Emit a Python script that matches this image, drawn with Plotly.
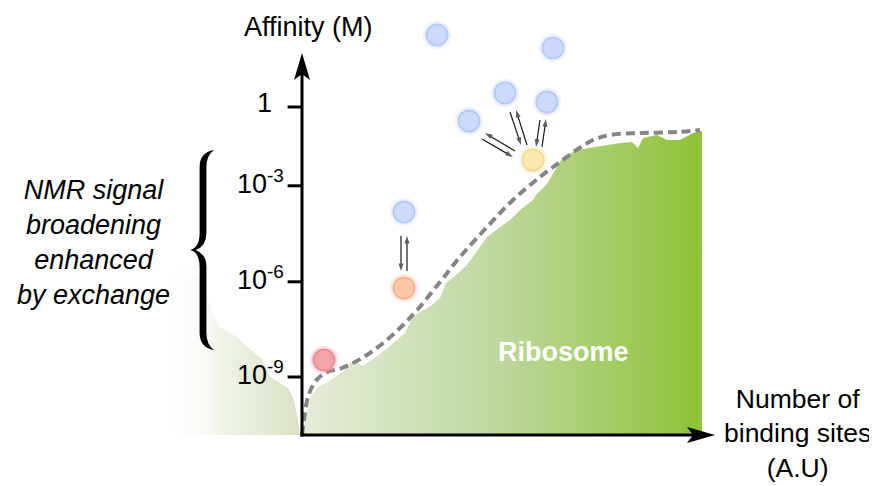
import plotly.graph_objects as go

# ---------------- data (x: number of binding sites, A.U.; y: affinity level, A.U.) ----------------
ribosome_x = [0, 0.25, 1, 2, 4, 6.5, 9, 10.75, 12, 13.5, 15, 17.5, 20.75, 23.25, 25.75, 27.5, 29.5,
              32.5, 34.5, 36, 38.25, 41.25, 44, 46.25, 49.5, 52, 54.5, 57.75, 58.5, 61.25, 63.25,
              65.25, 68.75, 74.5, 79.5, 82.5, 84, 85.25, 88.75, 91.25, 94.5, 97.75, 100, 100]
ribosome_y = [0, 0.5, 5, 9.5, 12, 13.25, 15, 16.25, 18.25, 18.25, 17.25, 18.75, 21.25, 23.5, 25.5,
              29.25, 30.75, 32.5, 34.25, 38, 39.75, 42.5, 46.25, 49.5, 52, 53.75, 56.25, 58.75, 60,
              62.75, 66.25, 69.5, 71.25, 72.25, 73, 73.25, 71.75, 74.25, 75, 73.75, 73.75, 75.5, 76, 0]

trend_x = [0, 0.5, 1.5, 3.25, 5.75, 10, 15, 20, 25, 29, 34.5, 39.5, 46.25, 52.75, 59.5, 64.5,
           68.25, 72.75, 77, 85.25, 93.75, 99.5]
trend_y = [0, 3.75, 9.5, 13.25, 15.5, 16.75, 19.25, 22.75, 27.25, 31.5, 38.25, 44.5, 52, 58.75, 64.5,
           68.25, 71, 73.75, 75, 75.5, 75.75, 76.25]

exchange_x = [-34.25, -30.5, -26.75, -24.25, -22.5, -20.5, -18, -16.25, -14.25, -11.75, -9.75, -8,
              -5.5, -3.5, -2.25, -1.5, -0.75, -0.5, -34.25]
exchange_y = [41.75, 41.75, 40, 36.25, 30.75, 27, 25.5, 24.5, 22.5, 20.5, 18.75, 14.5, 13, 11.75,
              9.5, 6.25, 2, 0, 0]

ligand_x = [33.75, 62.75, 50.75, 61.25, 41.75, 25.5, 57.75, 25.5, 5.5]
ligand_y = [100, 96.75, 85.5, 83.25, 78.5, 55.75, 68.75, 36.75, 18.75]
ligand_state = ["free", "free", "free", "free", "free", "free", "weak", "medium", "strong"]

# exchange arrows: tail -> head
arrow_tail_x = [24.75, 26.25, 45, 53.25, 52, 56.25, 59.5, 60]
arrow_tail_y = [49.75, 41, 74, 71, 80.75, 72.5, 78.75, 72]
arrow_head_x = [24.75, 26.25, 52.75, 45.75, 54.75, 53.5, 58.5, 61]
arrow_head_y = [41, 49.75, 69.5, 75.5, 72.5, 81.25, 72, 79]

tick_vals = [82, 62.3, 38.3, 14.5]
tick_text = ["1", "10<sup>-3</sup>", "10<sup>-6</sup>", "10<sup>-9</sup>"]

x_axis_end = 103.25
y_axis_end = 95.5

# ---------------- styles ----------------
FONT = "Liberation Sans, Arial, Helvetica, sans-serif"
FS = 27
fill_col = {"free": "#cbdafa", "weak": "#fde8b4", "medium": "#fcc8a7", "strong": "#f4a4a9"}
ring_col = {"free": "#b7cbf6", "weak": "#fbd98f", "medium": "#f8b593", "strong": "#ee8e97"}

fig = go.Figure()

# faded exchange region left of the axis
fig.add_trace(go.Scatter(
    x=exchange_x, y=exchange_y, mode="lines", fill="toself", line=dict(width=0),
    fillgradient=dict(type="horizontal",
                      colorscale=[[0, "rgba(255,255,255,0)"], [0.45, "rgba(238,243,230,1)"],
                                  [1, "rgba(216,226,196,1)"]]),
    hoverinfo="skip", showlegend=False))

# ribosome area
fig.add_trace(go.Scatter(
    x=ribosome_x, y=ribosome_y, mode="lines", fill="toself", line=dict(width=0),
    fillgradient=dict(type="horizontal",
                      colorscale=[[0, "#e6eddb"], [0.5, "#bdd79c"], [1, "#8fc236"]]),
    hoverinfo="skip", showlegend=False))

# dashed trend line
fig.add_trace(go.Scatter(
    x=trend_x, y=trend_y, mode="lines", line=dict(color="#858585", width=4, dash="9px,5px",
                                                     shape="spline", smoothing=1.0),
    hoverinfo="skip", showlegend=False))

# ligands (glow + body)
fig.add_trace(go.Scatter(
    x=ligand_x, y=ligand_y, mode="markers",
    marker=dict(size=28, color=[ring_col[s] for s in ligand_state], opacity=0.25, line=dict(width=0)),
    hoverinfo="skip", showlegend=False))
fig.add_trace(go.Scatter(
    x=ligand_x, y=ligand_y, mode="markers",
    marker=dict(size=21, color=[fill_col[s] for s in ligand_state],
                line=dict(width=2, color=[ring_col[s] for s in ligand_state])),
    hoverinfo="skip", showlegend=False))

# exchange arrows
for tx, ty, hx, hy in zip(arrow_tail_x, arrow_tail_y, arrow_head_x, arrow_head_y):
    fig.add_trace(go.Scatter(
        x=[tx, hx], y=[ty, hy], mode="lines+markers",
        line=dict(color="#1a1a1a", width=1.2),
        marker=dict(symbol=["circle", "arrow"], size=[0, 8], angleref="previous",
                    color="#1a1a1a", standoff=0, line=dict(width=0)),
        hoverinfo="skip", showlegend=False))

shapes = []
# axes
shapes.append(dict(type="line", x0=-0.4, y0=0, x1=x_axis_end - 5, y1=0, xref="x", yref="y",
                   line=dict(color="black", width=3)))
shapes.append(dict(type="line", x0=0, y0=-0.4, x1=0, y1=y_axis_end - 5, xref="x", yref="y",
                   line=dict(color="black", width=3)))
shapes.append(dict(type="path", xref="x", yref="y", fillcolor="black", line=dict(width=0),
                   path=f"M{x_axis_end},0 L{x_axis_end-7},2 L{x_axis_end-5.5},0 L{x_axis_end-7},-2 Z"))
shapes.append(dict(type="path", xref="x", yref="y", fillcolor="black", line=dict(width=0),
                   path=f"M0,{y_axis_end} L2,{y_axis_end-6.75} L0,{y_axis_end-5.25} L-2,{y_axis_end-6.75} Z"))
for tv in tick_vals:
    shapes.append(dict(type="line", x0=-3.6, y0=tv, x1=0, y1=tv, xref="x", yref="y",
                       line=dict(color="black", width=3)))

# curly brace
shapes.append(dict(type="path", xref="x", yref="y", fillcolor="black", line=dict(width=0),
                   path=("M-22,71.25 Q-25.6,70.6 -25.6,67 L-25.6,50.5 Q-25.6,46.8 -28,46.25 "
                         "Q-25.6,45.7 -25.6,42 L-25.6,25.5 Q-25.6,21.9 -22,21.25 "
                         "Q-23.9,22.6 -23.9,25.5 L-23.9,42 Q-23.9,45.3 -26.6,46.25 "
                         "Q-23.9,47.2 -23.9,50.5 L-23.9,67 Q-23.9,69.9 -22,71.25 Z")))

annotations = []
for tv, tt in zip(tick_vals, tick_text):
    annotations.append(dict(x=-7.0 if tt == "1" else -3.9, y=tv + 0.9, text=tt, showarrow=False,
                            xanchor="right", yanchor="middle",
                            font=dict(family=FONT, size=FS, color="black")))
annotations.append(dict(x=1.5, y=102, text="Affinity (M)", showarrow=False,
                        font=dict(family=FONT, size=FS, color="black")))
annotations.append(dict(x=123.75, y=0.5, text="Number of<br>binding sites<br>(A.U)", showarrow=False,
                        align="center", font=dict(family=FONT, size=26.5, color="black")))
annotations.append(dict(x=-52.25, y=48.1,
                        text="<i>NMR signal<br>broadening<br>enhanced<br>by exchange</i>",
                        showarrow=False, align="center", font=dict(family=FONT, size=FS, color="black")))
annotations.append(dict(x=65.25, y=20.75, text="<b>Ribosome</b>", showarrow=False,
                        font=dict(family=FONT, size=FS, color="white")))

# page adds an 8px body margin; the figure is sized/offset so the content lands on the same pixels
fig.update_layout(
    width=869, height=478, margin=dict(l=0, r=0, t=0, b=0),
    paper_bgcolor="white", plot_bgcolor="white",
    xaxis=dict(range=[-73.5, 143.75], visible=False, fixedrange=True),
    yaxis=dict(range=[-12.75, 106.75], visible=False, fixedrange=True),
    shapes=shapes, annotations=annotations, showlegend=False,
)

fig.write_html("out.html")
